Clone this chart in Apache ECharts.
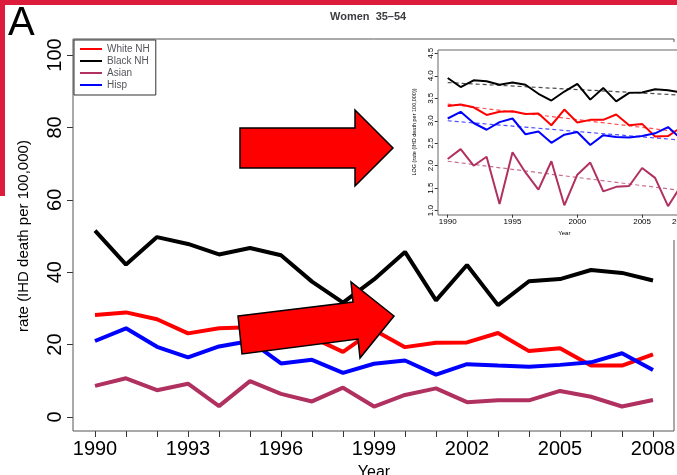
<!DOCTYPE html>
<html>
<head>
<meta charset="utf-8">
<script src="https://cdn.jsdelivr.net/npm/echarts@6/dist/echarts.min.js"></script>
<style>html,body{margin:0;padding:0;background:#fff}#c{width:677px;height:475px}</style>
</head>
<body>
<div id="c"></div>
<script>
var years = [1990, 1991, 1992, 1993, 1994, 1995, 1996, 1997, 1998, 1999, 2000, 2001, 2002, 2003, 2004, 2005, 2006, 2007, 2008];
var whiteNH = [28.2, 28.9, 27, 23.1, 24.5, 24.8, 24, 22, 18, 24, 19.3, 20.5, 20.6, 23.2, 18.2, 19, 14.2, 14.2, 17.3];
var blackNH = [51.5, 42.1, 49.7, 47.8, 44.9, 46.7, 44.7, 37.4, 31.6, 38, 45.6, 32.2, 42, 30.9, 37.5, 38.1, 40.6, 39.8, 37.7];
var asian = [8.6, 10.7, 7.4, 9.2, 3, 9.9, 6.4, 4.3, 8.1, 2.9, 6.1, 7.9, 4.1, 4.6, 4.6, 7.2, 5.6, 2.9, 4.7];
var hisp = [21, 24.5, 19.4, 16.5, 19.5, 21, 14.8, 15.8, 12.2, 14.7, 15.6, 11.7, 14.6, 14.2, 13.9, 14.4, 15.1, 17.6, 13];
// inset: log rates
var logWhite = [3.33, 3.36, 3.3, 3.13, 3.2, 3.21, 3.15, 3.16, 2.9, 3.25, 2.96, 3.02, 3.02, 3.14, 2.9, 2.93, 2.65, 2.66, 2.85];
var logBlack = [3.95, 3.75, 3.9, 3.88, 3.8, 3.85, 3.8, 3.6, 3.45, 3.65, 3.82, 3.47, 3.73, 3.43, 3.62, 3.63, 3.7, 3.68, 3.63];
var logAsian = [2.15, 2.37, 2.0, 2.2, 1.15, 2.3, 1.85, 1.47, 2.1, 1.12, 1.8, 2.07, 1.43, 1.53, 1.55, 1.95, 1.73, 1.1, 1.55];
var logHisp = [3.05, 3.2, 2.95, 2.8, 2.97, 3.05, 2.7, 2.76, 2.51, 2.69, 2.75, 2.46, 2.68, 2.64, 2.63, 2.66, 2.72, 2.86, 2.6];
var trendYears = [1990, 2008];
var trendWhite = [3.37, 2.75];
var trendBlack = [3.85, 3.57];
var trendAsian = [2.1, 1.45];
var trendHisp = [3.0, 2.57];
var names = ['White NH', 'Black NH', 'Asian', 'Hisp'];
var colors = ['#ff0000', '#000000', '#b03060', '#0000ff'];

function pairs(xs, ys) {
    return xs.map(function (x, i) { return [x, ys[i]]; });
}

var myChart = echarts.init(document.getElementById('c'));
var mainData = [whiteNH, blackNH, asian, hisp];
var logData = [logWhite, logBlack, logAsian, logHisp];
var trendData = [trendWhite, trendBlack, trendAsian, trendHisp];
var series = [];
for (var i = 0; i < 4; i++) {
    series.push({
        name: names[i], type: 'line', xAxisIndex: 0, yAxisIndex: 0, symbol: 'none', z: 3,
        lineStyle: { color: colors[i], width: 4 }, itemStyle: { color: colors[i] },
        data: pairs(years, mainData[i])
    });
}
for (var j = 0; j < 4; j++) {
    series.push({
        name: 'log' + j, type: 'line', xAxisIndex: 1, yAxisIndex: 1, symbol: 'none', z: 12,
        lineStyle: { color: colors[j], width: 2 }, data: pairs(years, logData[j])
    });
    series.push({
        name: 'trend' + j, type: 'line', xAxisIndex: 1, yAxisIndex: 1, symbol: 'none', z: 11,
        lineStyle: { color: colors[j], width: 1.2, type: [4, 3], opacity: 0.7 }, data: pairs(trendYears, trendData[j])
    });
}

function arrow(pts) {
    return { type: 'polygon', z: 30, shape: { points: pts }, style: { fill: '#ff0000', stroke: '#000', lineWidth: 1.5 } };
}

var option = {
    animation: false,
    title: { text: 'Women  35\u201354', left: 325, top: 6, textStyle: { fontSize: 11, fontWeight: 'bold', fontFamily: 'Liberation Sans' } },
    legend: {
        data: names, orient: 'vertical', left: 74, top: 40, padding: [4, 6, 5, 6], itemGap: 2,
        icon: 'rect', itemWidth: 22, itemHeight: 2, borderColor: '#333', borderWidth: 1, borderRadius: 0,
        backgroundColor: '#fff', textStyle: { fontSize: 10, fontFamily: 'Liberation Sans' }, selectedMode: false
    },
    grid: [
        { left: 95, right: 24, top: 55, bottom: 58, outerBoundsMode: 'none' },
        { left: 447.7, right: -4, top: 53.3, bottom: 264.3, outerBoundsMode: 'none' },
        { left: 95, right: 24, top: 55, bottom: 44, outerBoundsMode: 'none' }
    ],
    xAxis: [
        { type: 'value', gridIndex: 0, min: 1990, max: 2008, show: false },
        {
            type: 'value', gridIndex: 1, min: 1990, max: 2008, interval: 5, offset: 4, z: 15,
            name: 'Year', nameLocation: 'middle', nameGap: 16, nameTextStyle: { fontSize: 6, fontFamily: 'Liberation Sans', color: '#000' },
            axisLine: { show: false }, splitLine: { show: false },
            axisTick: { length: 3, lineStyle: { color: '#333' } },
            axisLabel: { fontSize: 8, color: '#000', margin: 3, fontFamily: 'Liberation Sans',
                formatter: function (v) { return String(v); } }
        },
        {
            type: 'value', gridIndex: 2, min: 1990, max: 2008, interval: 1,
            name: 'Year', nameLocation: 'middle', nameGap: 34, nameTextStyle: { fontSize: 16, fontFamily: 'Liberation Sans', color: '#000' },
            axisLine: { show: false }, splitLine: { show: false },
            axisTick: { length: 6, lineStyle: { color: '#333' } },
            axisLabel: { fontSize: 20, color: '#000', fontFamily: 'Liberation Sans', margin: 8,
                formatter: function (v) { return (v - 1990) % 3 === 0 ? String(v) : ''; } }
        }
    ],
    yAxis: [
        {
            type: 'value', gridIndex: 0, min: 0, max: 100, interval: 20, offset: 22,
            name: 'rate (IHD death per 100,000)', nameLocation: 'middle', nameGap: 42, nameRotate: 90,
            nameTextStyle: { fontSize: 15, fontFamily: 'Liberation Sans', color: '#000' },
            axisLine: { show: false }, splitLine: { show: false },
            axisTick: { length: 6, lineStyle: { color: '#333' } },
            axisLabel: { fontSize: 20, color: '#000', rotate: 90, margin: 8, fontFamily: 'Liberation Sans' }
        },
        {
            type: 'value', gridIndex: 1, min: 1, max: 4.5, interval: 0.5, offset: 10, z: 15,
            name: 'LOG (rate (IHD death per 100,000))', nameLocation: 'middle', nameGap: 20, nameRotate: 90,
            nameTextStyle: { fontSize: 5.5, fontFamily: 'Liberation Sans', color: '#000' },
            axisLine: { show: false }, splitLine: { show: false },
            axisTick: { length: 3, lineStyle: { color: '#333' } },
            axisLabel: { fontSize: 8, color: '#000', rotate: 90, margin: 3, fontFamily: 'Liberation Sans',
                formatter: function (v) { return v.toFixed(1); } }
        },
        { type: 'value', gridIndex: 2, show: false }
    ],
    graphic: [
        { type: 'rect', z: 0, shape: { x: 0, y: 0, width: 677, height: 5 }, style: { fill: '#dc1c3a' } },
        { type: 'rect', z: 0, shape: { x: 0, y: 0, width: 5, height: 196 }, style: { fill: '#dc1c3a' } },
        { type: 'text', z: 5, left: 8, top: 4, style: { text: 'A', fontSize: 40, fill: '#000', fontFamily: 'Liberation Sans' } },
        { type: 'rect', z: 1, shape: { x: 73, y: 39, width: 601, height: 392 }, style: { fill: 'none', stroke: '#555', lineWidth: 1 } },
        { type: 'rect', z: 5, shape: { x: 395, y: 42, width: 290, height: 198 }, style: { fill: '#fff' } },
        { type: 'rect', z: 13, shape: { x: 438, y: 50, width: 260, height: 165 }, style: { fill: 'none', stroke: '#666', lineWidth: 1 } },
        arrow([[240, 128], [355, 128], [355, 110], [393, 148], [355, 186], [355, 168], [240, 168]]),
        arrow([[238, 316], [353, 302], [351, 282], [394, 316], [360, 358], [358, 339], [242, 354]])
    ],
    series: series
};
myChart.setOption(option);
</script>
</body>
</html>
